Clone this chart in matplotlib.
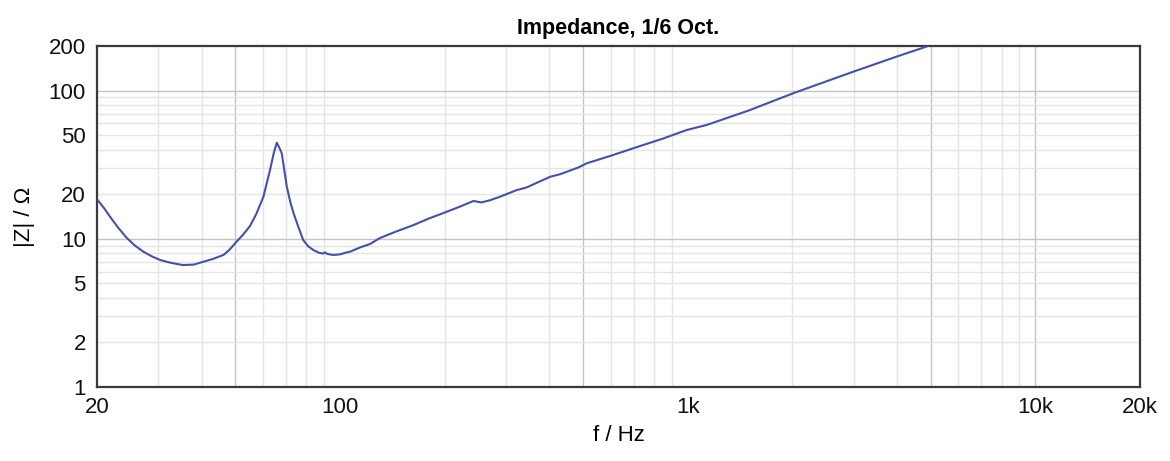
import matplotlib
matplotlib.use("Agg")
import matplotlib.pyplot as plt
from matplotlib.ticker import FixedLocator, NullFormatter, NullLocator

plt.rcParams['font.family'] = ['Liberation Sans', 'DejaVu Sans']

# Frequency (Hz) and impedance magnitude (Ohm)
freq = [20, 21, 21.8, 23, 24.3, 25.7, 27.2, 28.8, 30.4, 32.5, 35.3, 38, 40.5,
        43, 46.2, 48, 50.4, 52.5, 55.1, 57.5, 60.2, 62.9, 64.5, 65.8, 66.8, 68.0,
        69.0, 70.3, 72.0, 73.5, 76.0, 78.4, 81.0, 83.8, 87.0, 89.5, 90.5, 92.0,
        95.7, 100, 104, 107, 115, 122, 130, 145, 163, 180, 198, 220, 242, 255,
        270, 288, 322, 344, 370, 402, 430, 485, 512, 600, 697, 850, 993, 1133,
        1500, 2010, 2990, 4000, 4860, 5200]
imp = [18.5, 16.0, 14.1, 11.9, 10.2, 9.0, 8.18, 7.6, 7.19, 6.9, 6.65, 6.7, 7.01,
       7.3, 7.78, 8.4, 9.56, 10.6, 12.2, 14.8, 19.2, 29.1, 38.0, 44.5, 41.5, 37.7,
       30.0, 22.5, 17.6, 14.9, 11.9, 9.8, 8.9, 8.4, 8.05, 7.95, 8.1, 7.9,
       7.78, 7.85, 8.07, 8.2, 8.8, 9.22, 10.1, 11.2, 12.4, 13.7, 14.9, 16.4, 18.0, 17.6,
       18.2, 19.2, 21.3, 22.2, 24.0, 26.2, 27.3, 30.3, 32.3, 36.3, 40.8, 47.5, 54.2,
       58.6, 73.5, 95.9, 134, 170, 198, 212]

title = "Impedance, 1/6 Oct."
xlabel = "f / Hz"
ylabel = "|Z| / \u03a9"
xticks = [20, 100, 1000, 10000, 20000]
xticklabels = ["20", "100", "1k", "10k", "20k"]
yticks = [1, 2, 5, 10, 20, 50, 100, 200]
yticklabels = ["1", "2", "5", "10", "20", "50", "100", "200"]

fig = plt.figure(figsize=(11.70, 4.61), dpi=100)
ax = fig.add_axes([97/1170, 1 - 387/461, (1140-97)/1170, (387-46)/461])
ax.set_xscale('log')
ax.set_yscale('log')
ax.set_xlim(20, 20000)
ax.set_ylim(1, 200)

light = '#e4e4e4'
dark = '#c4c4c4'
vgrid = [m * d for d in (10, 100, 1000) for m in range(2, 10)] + [10000]
vgrid = [v for v in vgrid if 20 < v < 20000]
for v in vgrid:
    c = dark if v in (50, 100, 500, 1000, 5000, 10000) else light
    ax.axvline(v, color=c, lw=1.0, zorder=0)
hgrid = [m * d for d in (1, 10, 100) for m in range(1, 10)]
hgrid = [h for h in hgrid if 1 < h < 200]
for h in hgrid:
    c = dark if h in (10, 100) else light
    ax.axhline(h, color=c, lw=1.0, zorder=0)

ax.plot(freq, imp, color='#4550ad', lw=1.5, zorder=3)

ax.xaxis.set_major_locator(FixedLocator(xticks))
ax.set_xticklabels(xticklabels)
ax.xaxis.set_minor_locator(NullLocator())
ax.xaxis.set_minor_formatter(NullFormatter())
ax.yaxis.set_major_locator(FixedLocator(yticks))
ax.set_yticklabels(yticklabels)
ax.yaxis.set_minor_locator(NullLocator())
ax.yaxis.set_minor_formatter(NullFormatter())
ax.tick_params(axis='both', length=0, labelsize=16, colors='#111111')
ax.tick_params(axis='x', pad=7)
ax.tick_params(axis='y', pad=8)

for s in ax.spines.values():
    s.set_color('#3a3a3a')
    s.set_linewidth(1.6)

ax.set_title(title, fontsize=15.5, fontweight='bold', pad=9)
ax.set_xlabel(xlabel, fontsize=16, labelpad=5)
ax.set_ylabel(ylabel, fontsize=16, labelpad=10)

fig.savefig('out.png', dpi=100, facecolor='white')
